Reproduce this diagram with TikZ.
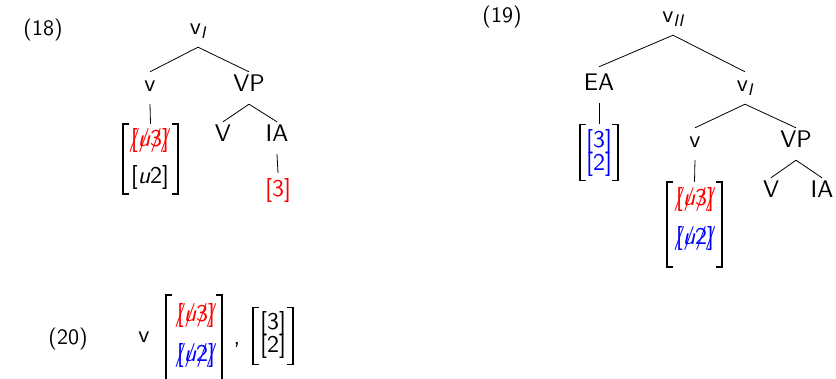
\documentclass[tikz,border=0pt]{standalone}
\usepackage{fontspec}
\newfontfamily\tsf{lmsans10-regular.otf}[ItalicFont=lmsans10-oblique.otf]
\newcommand\skc[1]{\ooalign{#1\cr\hidewidth/\hidewidth\cr}}
\newcommand\xstrk[1]{\skc{[}\skc{\itshape u}\skc{#1}\skc{]}}
\tikzset{
  tl/.style={font=\tsf\fontsize{24}{28}\selectfont, inner sep=0pt, text height=20pt, text depth=12pt, anchor=base},
  exl/.style={font=\tsf\fontsize{22}{26}\selectfont, inner sep=0pt, anchor=base},
  bx/.style={draw=none, inner sep=0pt},
  brk/.style={line width=1.5pt},
  edge/.style={line width=0.8pt},
}
\newcommand\brackets[1]{%
  \draw[brk] ([xshift=6pt]#1.north west) -- (#1.north west) -- (#1.south west) -- ([xshift=6pt]#1.south west);
  \draw[brk] ([xshift=-6pt]#1.north east) -- (#1.north east) -- (#1.south east) -- ([xshift=-6pt]#1.south east);}
\begin{document}
\begin{tikzpicture}[x=1pt,y=-1pt]
\useasboundingbox (0,0) rectangle (836,379);
% (18)
\node[exl] (ex18) at (43,36) {(18)};
\node[tl] (a1) at (198,35) {v\textsubscript{\itshape I}};
\node[tl] (a2) at (150,92) {v};
\node[tl] (a3) at (249,92) {VP};
\node[tl] (a4) at (223,142) {V};
\node[tl] (a5) at (277,142) {IA};
\node[tl, text height=24pt, text=red] (a6) at (278,197) {[3]};
\node[bx, minimum width=55pt, minimum height=70pt] (b1) at (150.5,159) {};
\node[tl, text=red] (a7) at (150,147) {\xstrk{3}};
\node[tl] (a8) at (150,184) {[{\itshape u}2]};
\brackets{b1}
\draw[edge] (a1.south) -- (a2.north);
\draw[edge] (a1.south) -- (a3.north);
\draw[edge] (a2.south) -- (b1.north);
\draw[edge] (a3.south) -- (a4.north);
\draw[edge] (a3.south) -- (a5.north);
\draw[edge] (a5.south) -- (a6.north);
% (19)
\node[exl] (ex19) at (502,23) {(19)};
\node[tl] (c1) at (673,23) {v\textsubscript{\itshape II}};
\node[tl, text height=24pt] (c2) at (599,91) {EA};
\node[tl] (c3) at (745,92) {v\textsubscript{\itshape I}};
\node[tl] (c4) at (695,148) {v};
\node[tl] (c5) at (796,148) {VP};
\node[tl] (c6) at (771,198) {V};
\node[tl] (c7) at (822,198) {IA};
\node[bx, minimum width=38pt, minimum height=56pt] (d1) at (599,152.5) {};
\node[tl, text=blue] (c8) at (599,148) {[3]};
\node[tl, text=blue] (c9) at (599,171) {[2]};
\brackets{d1}
\node[bx, minimum width=55pt, minimum height=85pt] (d2) at (694.5,224.5) {};
\node[tl, text=red] (c10) at (695,206) {\xstrk{3}};
\node[tl, text=blue] (c11) at (695,245) {\xstrk{2}};
\brackets{d2}
\draw[edge] (c1.south) -- (c2.north);
\draw[edge] (c1.south) -- (c3.north);
\draw[edge] (c2.south) -- (d1.north);
\draw[edge] (c3.south) -- (c4.north);
\draw[edge] (c3.south) -- (c5.north);
\draw[edge] (c4.south) -- (d2.north);
\draw[edge] (c5.south) -- (c6.north);
\draw[edge] (c5.south) -- (c7.north);
% (20)
\node[exl] (ex20) at (68,345) {(20)};
\node[tl] (e1) at (144,343) {v};
\node[bx, minimum width=56pt, minimum height=85pt] (f1) at (194,337.5) {};
\node[tl, text=red] (e2) at (196,322) {\xstrk{3}};
\node[tl, text=blue] (e3) at (196,362) {\xstrk{2}};
\brackets{f1}
\node[tl] (e4) at (237,345) {,};
\node[bx, minimum width=40pt, minimum height=57pt] (f2) at (273,336) {};
\node[tl] (e5) at (273,330) {[3]};
\node[tl] (e6) at (273,353) {[2]};
\brackets{f2}
\end{tikzpicture}
\end{document}
